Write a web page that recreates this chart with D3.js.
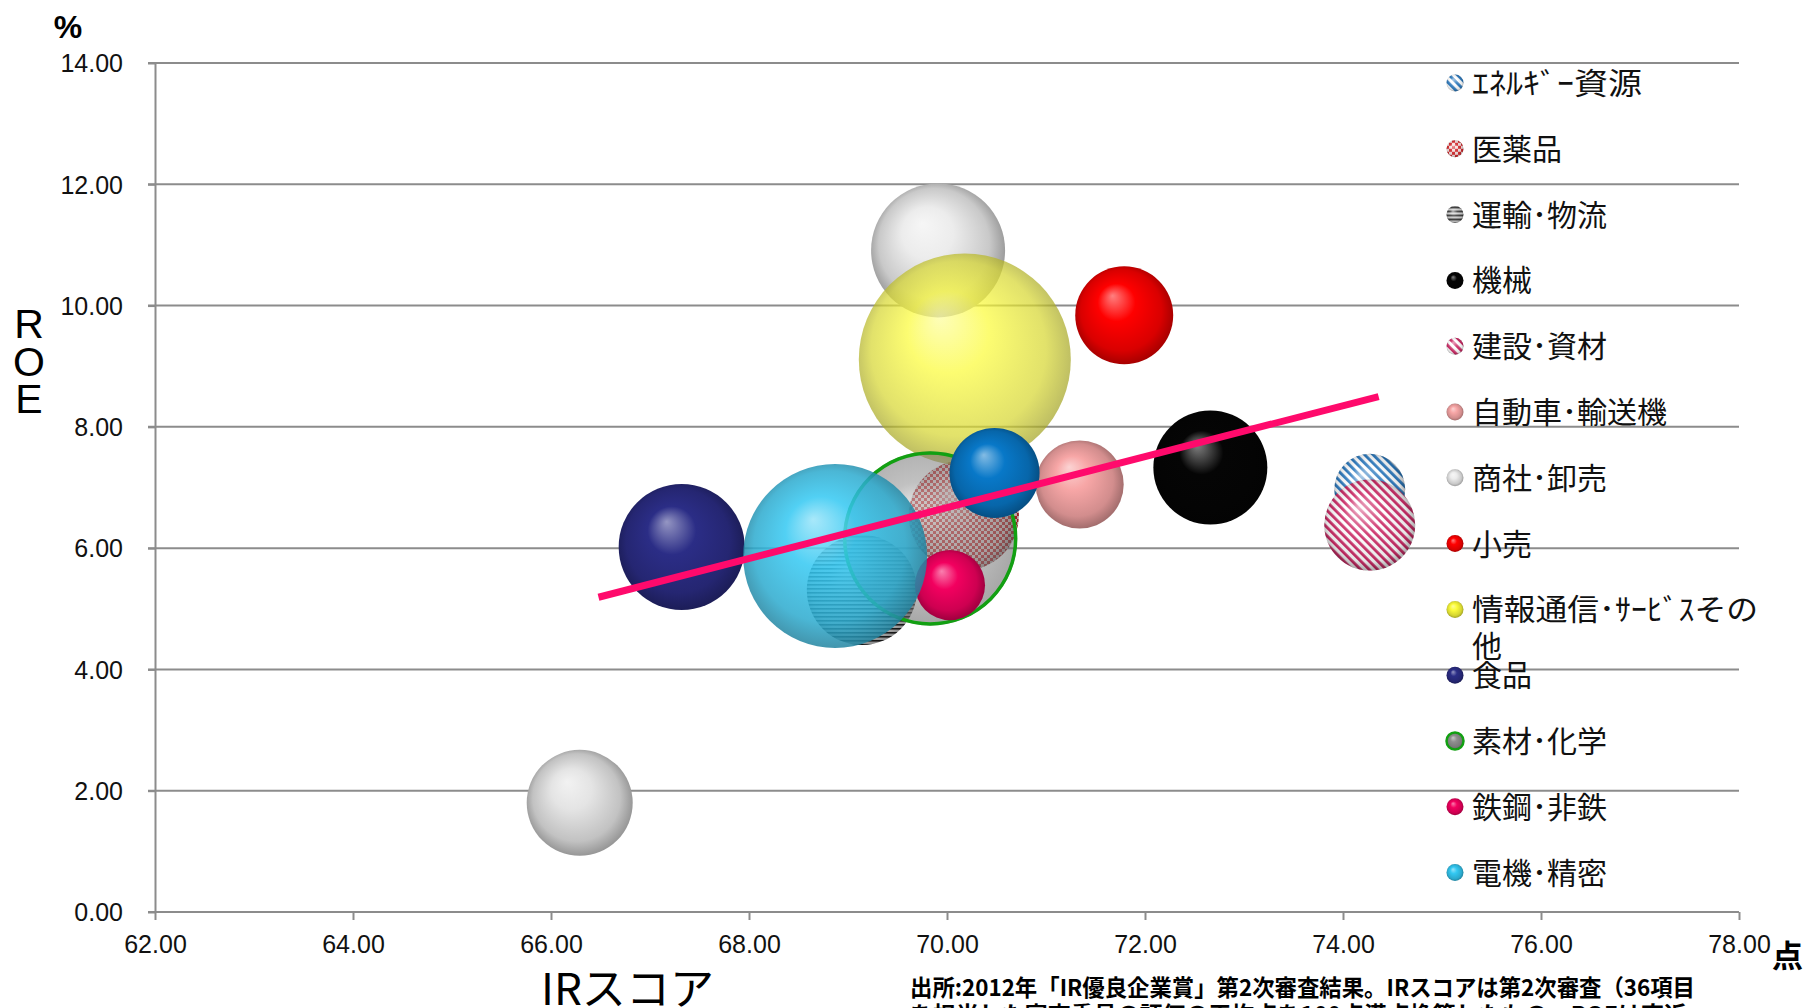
<!DOCTYPE html>
<html>
<head>
<meta charset="utf-8">
<script src="https://cdn.jsdelivr.net/npm/d3@7"></script>
<style>
  body { margin: 0; background: #fff; overflow: hidden; }
  text { font-family: "Liberation Sans", Arial, sans-serif; }
  .jp { font-family: "Noto Sans CJK JP", sans-serif; }
</style>
</head>
<body>
<script>
// bubble data (IR score vs ROE), last two are series not shown in the legend
var categories = ["ｴﾈﾙｷﾞｰ資源", "医薬品", "運輸･物流", "機械", "建設･資材", "自動車･輸送機", "商社･卸売",
                  "小売", "情報通信･ｻｰﾋﾞｽその他", "食品", "素材･化学", "鉄鋼･非鉄", "電機･精密", "(凡例外1)", "(凡例外2)"];
var irScore = [74.27, 70.17, 69.14, 72.66, 74.27, 71.34, 69.91, 71.79, 70.18, 67.32, 69.83, 70.03, 68.87, 66.29, 70.48];
var roe     = [6.97, 6.54, 5.31, 7.33, 6.38, 7.05, 10.91, 9.84, 9.11, 6.02, 6.16, 5.39, 5.87, 1.80, 7.24];
var bubbleSize = [12.6, 30.3, 30.3, 32.5, 20.7, 19.4, 44.9, 24.0, 112.4, 39.7, 75.7, 12.3, 84.6, 28.1, 20.3];
var legendCount = 13;

var xTicks = [62, 64, 66, 68, 70, 72, 74, 76, 78];
var yTicks = [0, 2, 4, 6, 8, 10, 12, 14];

// linear trendline end points
var trendX = [66.48, 74.36];
var trendY = [5.19, 8.50];

var sourceLines = ["出所:2012年「IR優良企業賞」第2次審査結果。IRスコアは第2次審査（36項目",
                   "を担当した審査委員の評価の平均点を100点満点換算したもの。ROEは直近"];

// look of each series
var styles = [
  {type: "stripeD", color: "#2a78bd", bg: "#ffffff"},
  {type: "check", color: "#d42a2e", bg: "#f3dede"},
  {type: "stripeH", color: "#222222", bg: "#d0d0d0"},
  {type: "solid", color: "#050505"},
  {type: "stripeD", color: "#cc2a66", bg: "#ffffff"},
  {type: "solid", color: "#f7a6a6"},
  {type: "solid", color: "#ececec"},
  {type: "solid", color: "#ff0000"},
  {type: "solid", color: "#fbfb3a", opacity: 0.72},
  {type: "solid", color: "#2b2d86"},
  {type: "solid", color: "#8e8e8e", opacity: 0.55, stroke: "#12a012"},
  {type: "solid", color: "#f2005f"},
  {type: "solid", color: "#33c8f2", opacity: 0.85},
  {type: "solid", color: "#e4e4e4"},
  {type: "solid", color: "#0878c8"}
];

var width = 1806, height = 1008;
var plotLeft = 155, plotRight = 1739, plotTop = 63, plotBottom = 912;

var svg = d3.select("body").append("svg")
    .attr("width", width)
    .attr("height", height);

var defs = svg.append("defs");

var x = d3.scaleLinear().domain([62, 78]).range([plotLeft, plotRight]);
var y = d3.scaleLinear().domain([0, 14]).range([plotBottom, plotTop]);
var r = d3.scaleSqrt().domain([0, d3.max(bubbleSize)]).range([0, 106]);

// gradients and patterns
styles.forEach(function(s, i){
  if (s.type == "solid") {
    var c = d3.color(s.color);
    var g = defs.append("radialGradient").attr("id", "g" + i)
        .attr("cx", "50%").attr("cy", "50%").attr("r", "55%")
        .attr("fx", "38%").attr("fy", "30%");
    g.append("stop").attr("offset", "0%").attr("stop-color", d3.interpolateRgb(s.color, "#fff")(0.5));
    g.append("stop").attr("offset", "35%").attr("stop-color", s.color);
    g.append("stop").attr("offset", "75%").attr("stop-color", c.darker(0.45));
    g.append("stop").attr("offset", "100%").attr("stop-color", c.darker(1.5));
  } else {
    var p = defs.append("pattern").attr("id", "g" + i)
        .attr("patternUnits", "userSpaceOnUse");
    if (s.type == "stripeD") {
      p.attr("width", 6).attr("height", 6).attr("patternTransform", "rotate(-45)");
      p.append("rect").attr("width", 6).attr("height", 6).attr("fill", s.bg);
      p.append("rect").attr("width", 2.8).attr("height", 6).attr("fill", s.color);
    } else if (s.type == "stripeH") {
      p.attr("width", 4).attr("height", 4);
      p.append("rect").attr("width", 4).attr("height", 4).attr("fill", s.bg);
      p.append("rect").attr("width", 4).attr("height", 1.6).attr("fill", s.color);
    } else {
      p.attr("width", 6).attr("height", 6);
      p.append("rect").attr("width", 6).attr("height", 6).attr("fill", s.bg);
      p.append("rect").attr("width", 3).attr("height", 3).attr("fill", s.color);
      p.append("rect").attr("x", 3).attr("y", 3).attr("width", 3).attr("height", 3).attr("fill", s.color);
    }
  }
});

var shade = defs.append("radialGradient").attr("id", "shade")
    .attr("cx", "50%").attr("cy", "50%").attr("r", "55%")
    .attr("fx", "38%").attr("fy", "30%");
shade.append("stop").attr("offset", "0%").attr("stop-color", "#fff").attr("stop-opacity", 0.6);
shade.append("stop").attr("offset", "40%").attr("stop-color", "#fff").attr("stop-opacity", 0.1);
shade.append("stop").attr("offset", "80%").attr("stop-color", "#000").attr("stop-opacity", 0.1);
shade.append("stop").attr("offset", "100%").attr("stop-color", "#000").attr("stop-opacity", 0.45);

// gridlines
svg.append("g").selectAll("line")
    .data(yTicks.slice(1))
    .enter().append("line")
    .attr("x1", plotLeft - 7).attr("x2", plotRight)
    .attr("y1", function(d){ return y(d); })
    .attr("y2", function(d){ return y(d); })
    .attr("stroke", "#8c8c8c").attr("stroke-width", 2);

// axes
var xAxis = svg.append("g")
    .attr("transform", "translate(0," + plotBottom + ")")
    .call(d3.axisBottom(x).tickValues(xTicks).tickFormat(d3.format(".2f")).tickSize(8).tickSizeOuter(0));
xAxis.select(".domain").attr("stroke", "#8c8c8c").attr("stroke-width", 2)
    .attr("d", "M" + (plotLeft - 7) + ",0H" + plotRight);
xAxis.selectAll(".tick line").attr("stroke", "#8c8c8c").attr("stroke-width", 2);
xAxis.selectAll("text").attr("dy", null).attr("y", 41)
    .style("font-size", "25px").style("font-family", "Liberation Sans, Arial").attr("fill", "#111");

var yAxis = svg.append("g")
    .attr("transform", "translate(" + plotLeft + ",0)")
    .call(d3.axisLeft(y).tickValues(yTicks).tickFormat(d3.format(".2f")).tickSize(7).tickSizeOuter(0));
yAxis.select(".domain").attr("stroke", "#8c8c8c").attr("stroke-width", 2);
yAxis.selectAll(".tick line").attr("stroke", "#8c8c8c").attr("stroke-width", 2);
yAxis.selectAll("text").attr("x", -32).attr("dy", "0.35em")
    .style("font-size", "25px").style("font-family", "Liberation Sans, Arial").attr("fill", "#111");

// bubbles
var data = categories.map(function(c, i){
  return {name: c, x: irScore[i], y: roe[i], size: bubbleSize[i], s: styles[i], i: i};
});

var bubbles = svg.append("g").selectAll("g")
    .data(data)
    .enter().append("g")
    .attr("opacity", function(d){ return d.s.opacity || 1; });

bubbles.append("circle")
    .attr("cx", function(d){ return x(d.x); })
    .attr("cy", function(d){ return y(d.y); })
    .attr("r", function(d){ return r(d.size); })
    .attr("fill", function(d){ return "url(#g" + d.i + ")"; });

bubbles.filter(function(d){ return d.s.type != "solid"; })
  .append("circle")
    .attr("cx", function(d){ return x(d.x); })
    .attr("cy", function(d){ return y(d.y); })
    .attr("r", function(d){ return r(d.size); })
    .attr("fill", "url(#shade)");

// green outline drawn opaque on top of the see-through fill
bubbles.filter(function(d){ return d.s.stroke; })
  .append("circle")
    .attr("cx", function(d){ return x(d.x); })
    .attr("cy", function(d){ return y(d.y); })
    .attr("r", function(d){ return r(d.size) - 1.5; })
    .attr("fill", "none")
    .attr("stroke", function(d){ return d.s.stroke; })
    .attr("stroke-width", 3.5)
    .attr("stroke-opacity", 1);
bubbles.filter(function(d){ return d.s.stroke; }).attr("opacity", 1)
  .select("circle").attr("fill-opacity", function(d){ return d.s.opacity; });

// trendline
svg.append("line")
    .attr("x1", x(trendX[0])).attr("y1", y(trendY[0]))
    .attr("x2", x(trendX[1])).attr("y2", y(trendY[1]))
    .attr("stroke", "#ff0a6c").attr("stroke-width", 7);

// legend
var legend = svg.append("g").selectAll("g")
    .data(data.slice(0, legendCount))
    .enter().append("g")
    .attr("transform", function(d, i){ return "translate(1455," + (83 + i * 65.8) + ")"; });

legend.append("circle").attr("r", 8.5)
    .attr("fill", function(d){ return "url(#g" + d.i + ")"; })
    .attr("stroke", function(d){ return d.s.stroke || "none"; })
    .attr("stroke-width", 2.5);
legend.filter(function(d){ return d.s.type != "solid"; })
    .append("circle").attr("r", 8.5).attr("fill", "url(#shade)");

// half-width katakana is drawn wider in the original
var stretch = {0: 170, 8: 286};

legend.append("text")
    .attr("class", "jp")
    .attr("x", 17)
    .attr("y", 11)
    .style("font-size", "30px")
    .attr("fill", "#111")
    .each(function(d){
      var t = d3.select(this);
      var first = d.name.length > 12 ? d.name.slice(0, -1) : d.name;
      var s1 = t.append("tspan").text(first);
      if (stretch[d.i]) s1.attr("textLength", stretch[d.i]).attr("lengthAdjust", "spacingAndGlyphs");
      if (d.name.length > 12) {
        t.append("tspan").attr("x", 17).attr("dy", 37).text(d.name.slice(-1));
      }
    });

// titles
svg.append("text").attr("x", 68).attr("y", 38).attr("text-anchor", "middle")
    .style("font-size", "32px").style("font-weight", "bold").text("%");

svg.append("text").attr("class", "jp").attr("x", 1772).attr("y", 967)
    .style("font-size", "31px").style("font-weight", "bold").text("点");

svg.append("g").selectAll("text")
    .data(["R", "O", "E"])
    .enter().append("text")
    .attr("x", 29).attr("y", function(d, i){ return 338 + i * 37.5; })
    .attr("text-anchor", "middle")
    .style("font-size", "41px")
    .text(function(d){ return d; });

svg.append("text").attr("class", "jp")
    .attr("x", 541).attr("y", 1005)
    .attr("textLength", 173).attr("lengthAdjust", "spacingAndGlyphs")
    .style("font-size", "44px")
    .text("IRスコア");

svg.append("g").selectAll("text")
    .data(sourceLines)
    .enter().append("text")
    .attr("class", "jp")
    .attr("x", 910)
    .attr("y", function(d, i){ return 996 + i * 27; })
    .attr("textLength", function(d, i){ return i == 0 ? 785 : 777; })
    .attr("lengthAdjust", "spacingAndGlyphs")
    .style("font-size", "23px").style("font-weight", "bold")
    .text(function(d){ return d; });
</script>
</body>
</html>
